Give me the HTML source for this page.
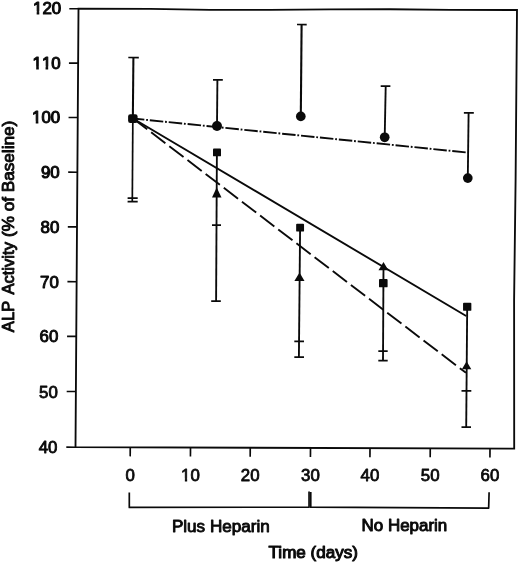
<!DOCTYPE html>
<html><head><meta charset="utf-8"><title>ALP Activity</title>
<style>
html,body{margin:0;padding:0;background:#fff;}
svg{display:block;}
text{font-family:"Liberation Sans",Arial,Helvetica,sans-serif;font-size:15.6px;fill:#0a0a0a;stroke:#0a0a0a;stroke-width:1.0px;stroke-linejoin:round;}
.yl text{stroke-width:0.9px;}
</style></head>
<body>
<svg width="520" height="563" viewBox="0 0 520 563" stroke="#0a0a0a">
<rect x="0" y="0" width="520" height="563" fill="#fff" stroke="none"/>
<polygon points="78.5,8.75 150,8.8 210,9.8 270,9.8 330,9.45 390,9.25 450,9.9 517,10 515.6,180 514.1,300 514.2,448.6 75.5,447.2" fill="none" stroke-width="1.85" stroke-linejoin="miter"/>
<line x1="69.30" y1="8.72" x2="78.50" y2="8.75" stroke-width="1.65" />
<g transform="translate(61.10,13.85) scale(1.08,1)"><text text-anchor="end" style="font-kerning:none;stroke-width:1.05px">120</text><rect x="-26.06" y="-2.47" width="3.43" height="3.97" fill="#fff" stroke="none"/><rect x="-20.20" y="-2.47" width="2.99" height="3.97" fill="#fff" stroke="none"/></g>
<line x1="68.93" y1="63.07" x2="78.13" y2="63.10" stroke-width="1.65" />
<g transform="translate(60.64,69.00) scale(1.08,1)"><text text-anchor="end" style="font-kerning:none;stroke-width:1.05px">110</text><rect x="-26.06" y="-2.47" width="3.43" height="3.97" fill="#fff" stroke="none"/><rect x="-20.20" y="-2.47" width="2.99" height="3.97" fill="#fff" stroke="none"/><rect x="-17.39" y="-2.47" width="3.43" height="3.97" fill="#fff" stroke="none"/><rect x="-11.53" y="-2.47" width="2.99" height="3.97" fill="#fff" stroke="none"/></g>
<line x1="68.56" y1="117.47" x2="77.76" y2="117.50" stroke-width="1.65" />
<g transform="translate(60.18,123.40) scale(1.08,1)"><text text-anchor="end" style="font-kerning:none;stroke-width:1.05px">100</text><rect x="-26.06" y="-2.47" width="3.43" height="3.97" fill="#fff" stroke="none"/><rect x="-20.20" y="-2.47" width="2.99" height="3.97" fill="#fff" stroke="none"/></g>
<line x1="68.18" y1="172.17" x2="77.38" y2="172.20" stroke-width="1.65" />
<g transform="translate(59.71,178.10) scale(1.08,1)"><text text-anchor="end" style="font-kerning:none;stroke-width:1.05px">90</text></g>
<line x1="67.81" y1="226.82" x2="77.01" y2="226.85" stroke-width="1.65" />
<g transform="translate(59.25,232.75) scale(1.08,1)"><text text-anchor="end" style="font-kerning:none;stroke-width:0.95px">80</text></g>
<line x1="67.43" y1="281.67" x2="76.63" y2="281.70" stroke-width="1.65" />
<g transform="translate(58.78,287.60) scale(1.08,1)"><text text-anchor="end" style="font-kerning:none;stroke-width:0.95px">70</text></g>
<line x1="67.06" y1="336.37" x2="76.26" y2="336.40" stroke-width="1.65" />
<g transform="translate(58.31,342.30) scale(1.08,1)"><text text-anchor="end" style="font-kerning:none;stroke-width:0.9px">60</text></g>
<line x1="66.68" y1="391.47" x2="75.88" y2="391.50" stroke-width="1.65" />
<g transform="translate(57.85,398.00) scale(1.08,1)"><text text-anchor="end" style="font-kerning:none;stroke-width:0.8px">50</text></g>
<line x1="66.30" y1="447.17" x2="75.50" y2="447.20" stroke-width="1.65" />
<g transform="translate(57.37,453.30) scale(1.08,1)"><text text-anchor="end" style="font-kerning:none;stroke-width:0.8px">40</text></g>
<line x1="130.25" y1="447.37" x2="130.19" y2="456.37" stroke-width="1.65" />
<g transform="translate(130.15,481.10) scale(1.08,1)"><text text-anchor="middle" style="font-kerning:none;stroke-width:0.75px">0</text></g>
<line x1="190.50" y1="447.57" x2="190.44" y2="456.57" stroke-width="1.65" />
<g transform="translate(190.40,481.03) scale(1.08,1)"><text text-anchor="middle" style="font-kerning:none;stroke-width:0.75px">10</text><rect x="-8.56" y="-2.47" width="3.43" height="3.97" fill="#fff" stroke="none"/><rect x="-3.00" y="-2.47" width="2.99" height="3.97" fill="#fff" stroke="none"/></g>
<line x1="250.25" y1="447.76" x2="250.19" y2="456.76" stroke-width="1.65" />
<g transform="translate(250.15,480.97) scale(1.08,1)"><text text-anchor="middle" style="font-kerning:none;stroke-width:0.75px">20</text></g>
<line x1="310.50" y1="447.95" x2="310.44" y2="456.95" stroke-width="1.65" />
<g transform="translate(310.40,480.90) scale(1.08,1)"><text text-anchor="middle" style="font-kerning:none;stroke-width:0.75px">30</text></g>
<line x1="370.00" y1="448.14" x2="369.94" y2="457.14" stroke-width="1.65" />
<g transform="translate(369.90,480.83) scale(1.08,1)"><text text-anchor="middle" style="font-kerning:none;stroke-width:0.75px">40</text></g>
<line x1="430.25" y1="448.33" x2="430.19" y2="457.33" stroke-width="1.65" />
<g transform="translate(430.15,480.77) scale(1.08,1)"><text text-anchor="middle" style="font-kerning:none;stroke-width:0.75px">50</text></g>
<line x1="490.00" y1="448.52" x2="489.94" y2="457.52" stroke-width="1.65" />
<g transform="translate(489.90,480.70) scale(1.08,1)"><text text-anchor="middle" style="font-kerning:none;stroke-width:0.75px">60</text></g>
<polyline points="129.3,492.5 129.3,507.4 309.05,507.2 309.05,491.6" fill="none" stroke-width="1.7" stroke-linejoin="round"/>
<polyline points="310.75,491.9 310.75,507.2 488.65,508.2 489.1,492.2" fill="none" stroke-width="1.7" stroke-linejoin="round"/>
<text style="stroke-width:0.85px" x="171.9" y="532" textLength="97.9" lengthAdjust="spacingAndGlyphs">Plus Heparin</text>
<text style="stroke-width:0.9px" x="361.6" y="531.4" textLength="85.7" lengthAdjust="spacingAndGlyphs">No Heparin</text>
<text x="268.6" y="558.3" textLength="89.3" lengthAdjust="spacingAndGlyphs">Time (days)</text>
<g transform="translate(13.8,332.6) rotate(-90)" class="yl"><text transform="translate(0.4,0) scale(1.066,1)">ALP</text><text transform="translate(38,0) scale(1.064,1)">Activity</text><text transform="translate(95.65,0) scale(1.0997,1)">(% of Baseline)</text></g>
<line x1="133.00" y1="118.50" x2="467.80" y2="152.58" stroke-width="1.9" stroke-dasharray="13.5 1.8 1.8 1.9" stroke-dashoffset="2.1"/>
<line x1="133.00" y1="118.50" x2="466.20" y2="315.96" stroke-width="1.9" />
<line x1="133.00" y1="118.50" x2="466.00" y2="372.85" stroke-width="1.9" stroke-dasharray="17.9 4.95"/>
<line x1="133.40" y1="57.50" x2="132.85" y2="118.60" stroke-width="2.05" />
<line x1="132.85" y1="118.60" x2="132.30" y2="201.50" stroke-width="1.7" />
<line x1="128.30" y1="57.50" x2="138.80" y2="57.53" stroke-width="1.75" />
<line x1="127.60" y1="198.20" x2="137.70" y2="198.23" stroke-width="1.75" />
<line x1="127.60" y1="201.50" x2="137.70" y2="201.53" stroke-width="1.75" />
<rect x="128.1" y="114.2" width="9.5" height="8.8" rx="2.2" fill="#0a0a0a" stroke="none"/>
<line x1="217.40" y1="79.90" x2="217.00" y2="126.00" stroke-width="1.85" />
<line x1="213.00" y1="79.90" x2="222.80" y2="79.93" stroke-width="1.75" />
<circle cx="217.0" cy="125.95" r="5" fill="#0a0a0a" stroke="none"/>
<line x1="216.90" y1="152.00" x2="216.10" y2="301.10" stroke-width="1.85" />
<line x1="212.00" y1="225.10" x2="221.00" y2="225.13" stroke-width="1.75" />
<line x1="211.20" y1="301.10" x2="220.80" y2="301.13" stroke-width="1.75" />
<rect x="213.00" y="148.50" width="8" height="7.8" rx="0.9" fill="#0a0a0a" stroke="none"/>
<polygon points="216.7,187.6 221.5,197.4 212,197.4" fill="#0a0a0a" stroke="none"/>
<line x1="301.60" y1="24.50" x2="300.80" y2="116.40" stroke-width="2.1" />
<line x1="297.00" y1="24.50" x2="306.70" y2="24.53" stroke-width="1.75" />
<circle cx="300.8" cy="116.4" r="4.85" fill="#0a0a0a" stroke="none"/>
<line x1="300.10" y1="227.70" x2="298.90" y2="357.00" stroke-width="1.85" />
<line x1="294.30" y1="341.30" x2="304.00" y2="341.33" stroke-width="1.75" />
<line x1="294.30" y1="357.00" x2="304.00" y2="357.03" stroke-width="1.75" />
<rect x="296.15" y="223.80" width="7.9" height="7.8" rx="0.9" fill="#0a0a0a" stroke="none"/>
<polygon points="299.5,272.4 304.5,280.9 294.4,280.9" fill="#0a0a0a" stroke="none"/>
<line x1="385.70" y1="86.20" x2="384.70" y2="137.30" stroke-width="1.85" />
<line x1="380.70" y1="86.20" x2="390.40" y2="86.23" stroke-width="1.75" />
<circle cx="384.7" cy="137.3" r="4.85" fill="#0a0a0a" stroke="none"/>
<line x1="383.50" y1="265.00" x2="383.00" y2="360.60" stroke-width="1.85" />
<line x1="378.30" y1="351.10" x2="387.70" y2="351.13" stroke-width="1.75" />
<line x1="378.30" y1="360.60" x2="387.70" y2="360.63" stroke-width="1.75" />
<rect x="379.00" y="279.05" width="8.6" height="8.3" rx="0.9" fill="#0a0a0a" stroke="none"/>
<polygon points="383.5,262 388.4,270.3 378.5,270.3" fill="#0a0a0a" stroke="none"/>
<line x1="468.60" y1="112.90" x2="467.80" y2="178.10" stroke-width="1.85" />
<line x1="463.90" y1="112.90" x2="473.80" y2="112.93" stroke-width="1.75" />
<circle cx="467.8" cy="178.1" r="4.85" fill="#0a0a0a" stroke="none"/>
<line x1="467.20" y1="306.80" x2="466.20" y2="427.00" stroke-width="1.85" />
<line x1="461.50" y1="390.80" x2="471.30" y2="390.83" stroke-width="1.75" />
<line x1="461.50" y1="427.00" x2="471.00" y2="427.03" stroke-width="1.75" />
<rect x="463.05" y="302.75" width="8.3" height="8.1" rx="0.9" fill="#0a0a0a" stroke="none"/>
<polygon points="466.6,361.3 471.3,369.3 461.9,369.3" fill="#0a0a0a" stroke="none"/>
</svg>
</body></html>
